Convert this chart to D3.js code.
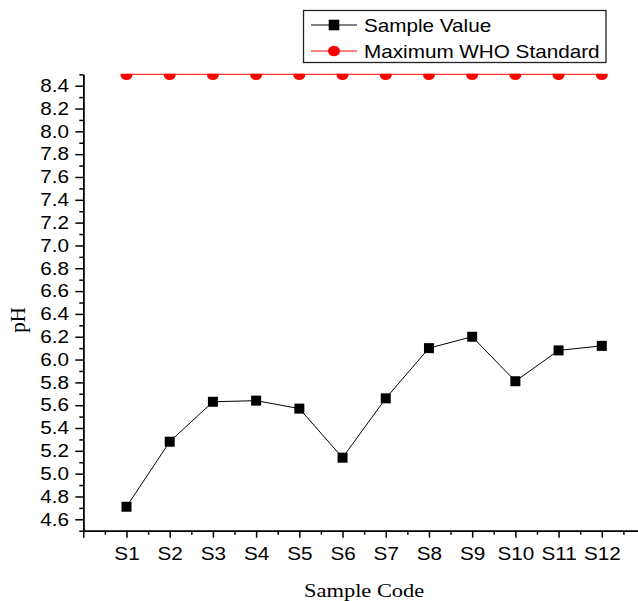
<!DOCTYPE html>
<html>
<head>
<meta charset="utf-8">
<script src="https://cdn.jsdelivr.net/npm/d3@7"></script>
<style>
  body { margin: 0; background: #fff; }
  .axis text { font-family: "Liberation Sans", Arial, sans-serif; font-size: 18px; fill: #000; }
  .axis path, .axis line { stroke: #000; stroke-width: 1.5; }
  .axisLabel { font-family: "Liberation Serif", "Times New Roman", serif; fill: #000; }
  .legend text { font-family: "Liberation Sans", Arial, sans-serif; font-size: 18px; fill: #000; }
</style>
</head>
<body>
<div id="chart"></div>
<script>
// data
const sampleCodes = ["S1", "S2", "S3", "S4", "S5", "S6", "S7", "S8", "S9", "S10", "S11", "S12"];
const sampleValues = [4.71, 5.28, 5.63, 5.64, 5.57, 5.14, 5.66, 6.10, 6.20, 5.81, 6.08, 6.12];
const whoMax = [8.5, 8.5, 8.5, 8.5, 8.5, 8.5, 8.5, 8.5, 8.5, 8.5, 8.5, 8.5];
const yTickValues = [4.6, 4.8, 5.0, 5.2, 5.4, 5.6, 5.8, 6.0, 6.2, 6.4, 6.6, 6.8, 7.0, 7.2, 7.4, 7.6, 7.8, 8.0, 8.2, 8.4];
const legendLabels = ["Sample Value", "Maximum WHO Standard"];

const width = 638;
const height = 601;
const stretch = 1.15; // the original picture is a bit wider than tall

const svg = d3.select("#chart")
    .append("svg")
    .attr("width", width)
    .attr("height", height);

//scales
const xScale = d3.scaleLinear()
    .domain([0, 13])
    .range([83.3, 645]);

const yScale = d3.scaleLinear()
    .domain([4.5, 8.5])
    .range([530.7, 74.3]);

//clip for plot area (WHO dots get cut at the top)
svg.append("clipPath")
    .attr("id", "plotClip")
  .append("rect")
    .attr("x", 83)
    .attr("y", 73.8)
    .attr("width", width)
    .attr("height", 470);

//x axis: major ticks at every sample, minor in between
const xMinor = svg.append("g")
    .attr("class", "axis")
    .attr("transform", `translate(0,${yScale(4.5)})`)
    .call(d3.axisBottom(xScale)
        .tickValues(d3.range(0.5, 13, 1))
        .tickSize(4)
        .tickSizeOuter(0)
        .tickFormat(""));

const xAxis = svg.append("g")
    .attr("class", "axis")
    .attr("transform", `translate(0,${yScale(4.5)})`)
    .call(d3.axisBottom(xScale)
        .tickValues(d3.range(0, 14, 1))
        .tickSize(7)
        .tickSizeOuter(0)
        .tickPadding(9.3)
        .tickFormat(function(d) { return sampleCodes[d - 1] || ""; }));

xAxis.selectAll("text")
    .attr("transform", `scale(${stretch},1)`);

//y axis
const yMinor = svg.append("g")
    .attr("class", "axis")
    .attr("transform", `translate(${xScale(0)},0)`)
    .call(d3.axisLeft(yScale)
        .tickValues(d3.range(45, 86, 2).map(function(d) { return d / 10; }))
        .tickSize(4)
        .tickSizeOuter(0)
        .tickFormat(""));

const yAxis = svg.append("g")
    .attr("class", "axis")
    .attr("transform", `translate(${xScale(0)},0)`)
    .call(d3.axisLeft(yScale)
        .tickValues(yTickValues)
        .tickSize(8)
        .tickSizeOuter(0)
        .tickPadding(4.4)
        .tickFormat(d3.format(".1f")));

yAxis.selectAll("text")
    .attr("transform", `scale(${stretch},1)`);

//axis titles
svg.append("text")
    .attr("class", "axisLabel")
    .attr("font-size", "19.5px")
    .attr("text-anchor", "middle")
    .attr("transform", `translate(${(xScale(0) + xScale(13)) / 2},597) scale(${stretch},1)`)
    .text("Sample Code");

svg.append("text")
    .attr("class", "axisLabel")
    .attr("font-size", "21px")
    .attr("text-anchor", "middle")
    .attr("transform", "translate(25,320) rotate(-90)")
    .text("pH");

//lines + markers
const line = d3.line()
    .x(function(d, i) { return xScale(i + 1); })
    .y(function(d) { return yScale(d); });

const plot = svg.append("g");

plot.append("path")
    .datum(whoMax)
    .attr("d", line)
    .attr("fill", "none")
    .attr("stroke", "#ff0000")
    .attr("stroke-width", 1);

plot.append("g")
    .attr("clip-path", "url(#plotClip)")
    .selectAll("ellipse")
    .data(whoMax)
    .enter().append("ellipse")
      .attr("cx", function(d, i) { return xScale(i + 1); })
      .attr("cy", function(d) { return yScale(d) + 0.4; })
      .attr("rx", 6)
      .attr("ry", 5.4)
      .attr("fill", "#ff0000");

plot.append("path")
    .datum(sampleValues)
    .attr("d", line)
    .attr("fill", "none")
    .attr("stroke", "#000")
    .attr("stroke-width", 1);

plot.selectAll("rect.pt")
    .data(sampleValues)
    .enter().append("rect")
      .attr("class", "pt")
      .attr("x", function(d, i) { return xScale(i + 1) - 5; })
      .attr("y", function(d) { return yScale(d) - 5; })
      .attr("width", 10)
      .attr("height", 10)
      .attr("fill", "#000");

//legend
const legend = svg.append("g")
    .attr("class", "legend");

legend.append("rect")
    .attr("x", 303.5)
    .attr("y", 10.5)
    .attr("width", 302.5)
    .attr("height", 52)
    .attr("fill", "#fff")
    .attr("stroke", "#222")
    .attr("stroke-width", 1.3);

const rows = [
  {label: legendLabels[0], color: "#000", y: 25, shape: "square"},
  {label: legendLabels[1], color: "#ff0000", y: 51, shape: "circle"}
];

rows.forEach(function(r) {
  legend.append("line")
      .attr("x1", 311).attr("x2", 357)
      .attr("y1", r.y).attr("y2", r.y)
      .attr("stroke", r.color)
      .attr("stroke-width", 1);
  if (r.shape === "square") {
    legend.append("rect")
        .attr("x", 334 - 5.3).attr("y", r.y - 5.3)
        .attr("width", 10.6).attr("height", 10.6)
        .attr("fill", r.color);
  } else {
    legend.append("ellipse")
        .attr("cx", 334).attr("cy", r.y)
        .attr("rx", 6).attr("ry", 5.3)
        .attr("fill", r.color);
  }
  legend.append("text")
      .attr("transform", `translate(364,${r.y + 7}) scale(${stretch},1)`)
      .text(r.label);
});
</script>
</body>
</html>
